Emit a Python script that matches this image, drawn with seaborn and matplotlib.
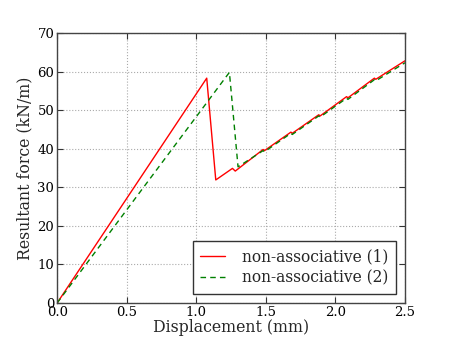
import numpy as np
import pandas as pd
import matplotlib
matplotlib.use('Agg')
import matplotlib.pyplot as plt
import seaborn as sns

# Force-displacement curves
disp_1 = [0.0, 1.075, 1.14, 1.26, 1.28, 1.48, 1.49, 1.68, 1.69, 1.88, 1.89,
          2.08, 2.09, 2.28, 2.29, 2.5]
force_1 = [0.0, 58.3, 31.9, 34.9, 34.2, 39.8, 39.5, 44.3, 44.0, 48.8, 48.5,
           53.5, 53.2, 58.3, 58.0, 62.8]
disp_2 = [0.0, 1.238, 1.30, 1.48, 1.49, 1.68, 1.69, 1.88, 1.89, 2.08, 2.09,
          2.28, 2.29, 2.5]
force_2 = [0.0, 59.8, 35.3, 39.5, 39.2, 44.0, 43.7, 48.5, 48.2, 53.1, 52.8,
           57.9, 57.6, 62.3]
labels = ['non-associative (1)', 'non-associative (2)']

sns.set_style('ticks')
plt.rcParams['font.family'] = ['DejaVu Serif']
plt.rcParams['xtick.direction'] = 'in'
plt.rcParams['ytick.direction'] = 'in'

df = pd.concat([
    pd.DataFrame({'d': disp_1, 'f': force_1, 'case': labels[0]}),
    pd.DataFrame({'d': disp_2, 'f': force_2, 'case': labels[1]}),
], ignore_index=True)

fig = plt.figure(figsize=(4.5, 3.37), dpi=100)
ax = fig.add_axes([0.127, 0.101, 0.773, 0.801])

sns.lineplot(data=df, x='d', y='f', hue='case', style='case', sort=False,
             palette=['red', 'green'], dashes=[(None, None), (4, 3)],
             linewidth=1.0, ax=ax, estimator=None)

ax.set_xlim(0, 2.5)
ax.set_ylim(0, 70)
ax.set_xticks(np.arange(0, 2.51, 0.5))
ax.set_yticks(np.arange(0, 71, 10))
ax.tick_params(labelsize=9.5, top=True, right=True, length=4, pad=2,
               colors='#333333', labelcolor='black')
ax.grid(True, linestyle=':', color='#aaaaaa', linewidth=0.8)
ax.set_xlabel('Displacement (mm)', fontsize=11.3, labelpad=0)
ax.set_ylabel('Resultant force (kN/m)', fontsize=11.3, labelpad=3)
for s in ax.spines.values():
    s.set_linewidth(1.0)
    s.set_color('#444444')

leg = ax.legend(loc='lower right', fontsize=11.2, fancybox=False,
                framealpha=1, edgecolor='#333333', borderaxespad=0.6,
                handlelength=1.6, handletextpad=1.1, borderpad=0.45,
                labelspacing=0.3)
leg.set_title(None)

fig.savefig('out.png', dpi=100)
